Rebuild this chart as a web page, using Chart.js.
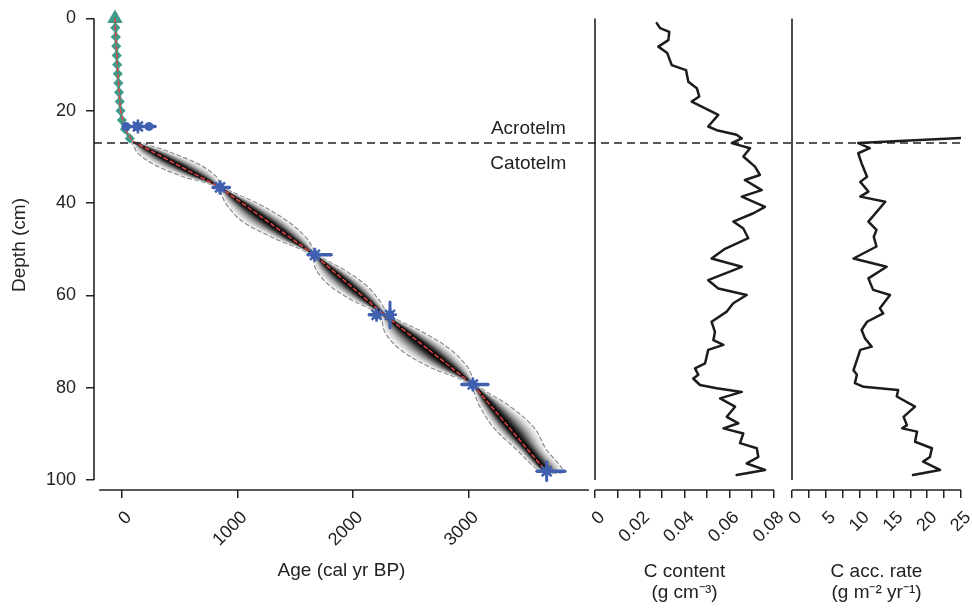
<!DOCTYPE html>
<html>
<head>
<meta charset="utf-8">
<title>Peat core: age model, C content, C accumulation</title>
<script src="https://cdn.jsdelivr.net/npm/chart.js@4.4.1/dist/chart.umd.min.js"></script>
<style>
  body { margin: 0; background: #fff; }
  #wrap { position: relative; width: 972px; height: 608px; }
  #wrap canvas { position: absolute; left: 0; top: 0; }
</style>
</head>
<body>
<div id="wrap">
  <canvas id="ageChart" width="972" height="608"></canvas>
  <canvas id="carbonChart" width="972" height="608"></canvas>
  <canvas id="rateChart" width="972" height="608"></canvas>
</div>
<script>
// ---- data ----
const depthTicks = [0, 20, 40, 60, 80, 100];
const zoneDepth = 27; // acrotelm / catotelm boundary (cm)

const ageTicks = [0, 1000, 2000, 3000];
const ageTickLabels = ['0', '1000', '2000', '3000'];
const ccTicks = [0, 0.01, 0.02, 0.03, 0.04, 0.05, 0.06, 0.07, 0.08];
const ccTickLabels = ['0', '', '0.02', '', '0.04', '', '0.06', '', '0.08'];
const rateTicks = [0, 2.5, 5, 7.5, 10, 12.5, 15, 17.5, 20, 22.5, 25];
const rateTickLabels = ['0', '', '5', '', '10', '', '15', '', '20', '', '25'];

// 210Pb chronology of the upper peat
const pbDepth = [0, 2, 4, 6, 8, 10, 12, 14, 16, 18, 20, 22, 24, 26];
const pbAge = [-58, -55, -51, -47, -43, -39, -34, -29, -23, -17, -10, 2, 28, 70];

// median age of the model
const medDepth = [0, 10, 20, 24, 26.6, 36.6, 51.2, 64.2, 79.3, 98];
const medAge = [-58, -39, -10, 28, 95, 850, 1665, 2270, 3035, 3665];

// 95% range of the age model
const envDepth = [26.6, 28.2, 29.1, 31.6, 34.1, 36.6, 40.25, 43.9, 47.55, 51.2, 54.45, 57.7, 60.95, 64.2, 68.0, 71.75, 75.5, 79.3, 83.98, 88.65, 93.3, 98.1, 98.6];
const envMid = [95, 216, 284, 472, 661, 850, 1054, 1258, 1461, 1665, 1816, 1968, 2119, 2270, 2461, 2653, 2844, 3035, 3193, 3350, 3508, 3665, 3700];
const envLo = [80, 116, 134, 277, 511, 815, 904, 1040, 1311, 1630, 1681, 1788, 1984, 2225, 2276, 2408, 2659, 3000, 3093, 3215, 3408, 3612, 3700];
const envHi = [110, 332, 434, 667, 811, 885, 1189, 1433, 1596, 1700, 1921, 2108, 2224, 2315, 2606, 2843, 2989, 3070, 3353, 3565, 3668, 3815, 3700];

// calibrated 14C dates
const dateDepth = [23.4, 36.6, 51.2, 64.2, 64.2, 79.3, 98.1];
const dateAge = [140, 850, 1670, 2203, 2319, 3035, 3673];
const dateLo = [12, 790, 1610, 2140, 2300, 2940, 3590];
const dateHi = [288, 930, 1810, 2250, 2340, 3165, 3830];
const dateSpan = [0.6, 1.2, 1.0, 0.8, 2.8, 0.9, 2.0];
const surfaceDatePeaks = [37, 132, 236];

// carbon content (g cm-3)
const ccDepth = [1.0, 2.1, 2.9, 4.7, 6.1, 7.5, 10.1, 11.2, 13.7, 15.1, 16.9, 18.0, 20.9, 23.4, 24.2, 25.2, 26.0, 27.0, 28.1, 29.9, 32.1, 33.9, 35.0, 37.2, 38.6, 40.8, 42.2, 44.0, 45.5, 47.6, 49.9, 52.0, 53.8, 56.7, 58.5, 59.9, 61.7, 63.5, 65.7, 67.9, 69.7, 70.7, 71.8, 74.7, 75.8, 77.2, 78.0, 79.4, 80.1, 80.9, 82.3, 84.1, 86.3, 87.7, 88.8, 89.9, 92.0, 93.1, 95.0, 96.4, 97.8, 98.9];
const ccValue = [0.0276, 0.0291, 0.0332, 0.0328, 0.0283, 0.0323, 0.0343, 0.0407, 0.0417, 0.0455, 0.0466, 0.0432, 0.0551, 0.0506, 0.0544, 0.0633, 0.0656, 0.0611, 0.0693, 0.0663, 0.0715, 0.0737, 0.0670, 0.0745, 0.0656, 0.0760, 0.0708, 0.0618, 0.0663, 0.0685, 0.0581, 0.0521, 0.0656, 0.0506, 0.0551, 0.0678, 0.0618, 0.0589, 0.0521, 0.0536, 0.0529, 0.0574, 0.0506, 0.0492, 0.0447, 0.0462, 0.0439, 0.0469, 0.0544, 0.0656, 0.0559, 0.0626, 0.0589, 0.0641, 0.0574, 0.0663, 0.0648, 0.0723, 0.0730, 0.0678, 0.0760, 0.0633];

// carbon accumulation rate (g m-2 yr-1)
const rateDepth = [25.5, 27.0, 28.1, 29.2, 31.4, 34.3, 35.4, 37.5, 38.6, 39.7, 44.0, 45.8, 47.3, 49.4, 52.0, 53.8, 56.3, 58.8, 59.9, 62.8, 63.9, 65.7, 67.5, 69.3, 71.1, 71.8, 74.0, 76.2, 77.2, 79.0, 79.8, 80.5, 81.9, 84.1, 86.3, 88.1, 88.8, 89.5, 91.7, 93.1, 95.0, 96.0, 97.8, 98.9];
const rateValue = [30, 9.8, 11.5, 9.8, 10.3, 11.1, 10.1, 11.3, 10.1, 13.8, 11.3, 12.5, 12.1, 12.5, 9.1, 14.0, 11.3, 12.0, 14.5, 13.0, 13.5, 11.1, 10.3, 10.8, 11.8, 10.1, 9.6, 9.1, 9.6, 9.3, 10.6, 15.7, 15.5, 18.2, 16.5, 17.0, 16.3, 18.5, 18.2, 20.7, 20.4, 19.4, 21.9, 17.9];

// ---- styling ----
const FONT = '"Liberation Sans", Arial, Helvetica, sans-serif';
const INK = '#222';
const H = 608;
const AXIS_Y = 490;      // pixel row of the bottom axes
const RIGHT_EDGE = 961;  // end of the last panel
const TEAL = '#3f9c8c';
const BLUE = '#3f5fb0';
const RED = '#e04646';
const shadeFrac = [1, 0.88, 0.76, 0.65, 0.54, 0.44, 0.35, 0.26, 0.18, 0.1];
const shadeFill = ['#f4f4f4', '#e0e0e0', '#c8c8c8', '#ababab', '#8b8b8b', '#696969', '#474747', '#2a2a2a', '#141414', '#050505'];

Chart.defaults.font.family = FONT;
Chart.defaults.color = INK;

const pts = (xs, ys) => xs.map((x, i) => ({ x: x, y: ys[i] }));

function depthAxis(show) {
  return {
    type: 'linear', reverse: true, min: -4, max: 102.15,
    display: show,
    afterBuildTicks: s => { s.ticks = depthTicks.map(v => ({ value: v })); },
    afterFit: s => {
      if (show) s.width = 94;
      s.paddingTop = 0;
      s.paddingBottom = 0;
    },
    grid: { drawOnChartArea: false, tickLength: 8, color: INK, lineWidth: 1.5 },
    border: { display: false },
    ticks: { font: { size: 18 }, color: INK, padding: 10 },
    title: { display: show, text: 'Depth (cm)', font: { size: 19 }, color: INK, padding: { top: 8 } }
  };
}

function bottomAxis(min, max, ticks, labels, title, pad) {
  return {
    type: 'linear', position: 'bottom', min: min, max: max,
    afterBuildTicks: s => { s.ticks = ticks.map(v => ({ value: v })); },
    afterFit: s => { s.height = H - AXIS_Y; s.paddingLeft = 0; s.paddingRight = 0; },
    grid: { drawOnChartArea: false, tickLength: 8, color: INK, lineWidth: 1.5 },
    border: { display: false },
    ticks: { autoSkip: false, minRotation: 45, maxRotation: 45, font: { size: 18 }, color: INK, padding: 9,
             labelOffset: 7, callback: (v, i) => labels[i] },
    title: { display: true, text: title, font: { size: 19, lineHeight: 1.1 }, color: INK, padding: { bottom: pad } }
  };
}

// detached axis lines, R style
const panelFrame = {
  id: 'panelFrame',
  beforeDatasetsDraw(chart, args, opts) {
    const { ctx, chartArea } = chart;
    const x = chart.scales.x, y = chart.scales.y;
    const ax = x.getPixelForValue(x.min);
    ctx.save();
    ctx.strokeStyle = INK;
    ctx.lineWidth = 1.6;
    ctx.beginPath();
    ctx.moveTo(ax, y.getPixelForValue(depthTicks[0]));
    ctx.lineTo(ax, y.getPixelForValue(depthTicks[depthTicks.length - 1]));
    ctx.moveTo(x.getPixelForValue(opts.from), chartArea.bottom);
    ctx.lineTo(x.getPixelForValue(x.max), chartArea.bottom);
    ctx.stroke();
    ctx.restore();
  }
};

// acrotelm / catotelm boundary across all panels
const zoneLine = {
  id: 'zoneLine',
  afterDatasetsDraw(chart, args, opts) {
    const { ctx, chartArea } = chart;
    const x = chart.scales.x, y = chart.scales.y;
    const py = y.getPixelForValue(zoneDepth);
    ctx.save();
    ctx.strokeStyle = INK;
    ctx.lineWidth = 1.5;
    ctx.setLineDash([8, 5]);
    ctx.beginPath();
    ctx.moveTo(chartArea.left, py);
    ctx.lineTo(RIGHT_EDGE, py);
    ctx.stroke();
    ctx.setLineDash([]);
    ctx.fillStyle = INK;
    ctx.font = '19px ' + FONT;
    ctx.textAlign = 'center';
    ctx.textBaseline = 'middle';
    ctx.fillText('Acrotelm', x.getPixelForValue(opts.labelAge), y.getPixelForValue(zoneDepth - 3.2));
    ctx.fillText('Catotelm', x.getPixelForValue(opts.labelAge), y.getPixelForValue(zoneDepth + 4.4));
    ctx.restore();
  }
};

const common = {
  responsive: false,
  animation: false,
  events: [],
  plugins: { legend: { display: false }, tooltip: { enabled: false } },
  elements: { point: { radius: 0 }, line: { borderJoinStyle: 'round', borderCapStyle: 'round' } }
};

// ---- age-depth panel ----
const ageSets = [];

dateAge.forEach((a, i) => {
  ageSets.push({ data: [{ x: dateLo[i], y: dateDepth[i] }, { x: dateHi[i], y: dateDepth[i] }],
    showLine: true, borderColor: BLUE, borderWidth: 3.5, order: 0 });
  ageSets.push({ data: [{ x: a, y: dateDepth[i] - dateSpan[i] }, { x: a, y: dateDepth[i] + dateSpan[i] }],
    showLine: true, borderColor: BLUE, borderWidth: 3, order: 0 });
});
ageSets.push({ data: pts(dateAge, dateDepth), pointStyle: 'star', pointRadius: 7, pointBorderWidth: 2.5,
  pointBorderColor: BLUE, pointBackgroundColor: BLUE, order: 0 });
ageSets.push({ data: pts(dateAge, dateDepth), pointStyle: 'rectRot', pointRadius: 5,
  pointBorderColor: BLUE, pointBackgroundColor: BLUE, order: 0 });
ageSets.push({ data: surfaceDatePeaks.map(a => ({ x: a, y: dateDepth[0] })), pointStyle: 'circle', pointRadius: 4,
  pointBorderColor: BLUE, pointBackgroundColor: BLUE, order: 0 });

ageSets.push({ data: pts(medAge, medDepth), showLine: true, borderColor: RED, borderWidth: 1.5,
  borderDash: [4, 3], order: 1 });

ageSets.push({ data: pts(pbAge, pbDepth), showLine: true, borderColor: TEAL, borderWidth: 3,
  pointStyle: pbDepth.map((d, i) => i === 0 ? 'triangle' : 'rectRot'),
  pointRadius: pbDepth.map((d, i) => i === 0 ? 6 : 3),
  pointBackgroundColor: TEAL, pointBorderColor: TEAL, order: 2 });

shadeFrac.forEach((f, k) => {
  const down = envDepth.map((d, i) => ({ x: envMid[i] + f * (envLo[i] - envMid[i]), y: d }));
  const up = envDepth.map((d, i) => ({ x: envMid[i] + f * (envHi[i] - envMid[i]), y: d })).reverse();
  ageSets.push({ data: down.concat(up), showLine: true, fill: 'shape', tension: 0.35,
    backgroundColor: shadeFill[k],
    borderColor: k === 0 ? '#8a8a8a' : 'rgba(0,0,0,0)', borderWidth: k === 0 ? 1.2 : 0,
    borderDash: [4, 3], order: 10 + (shadeFrac.length - k) });
});

new Chart(document.getElementById('ageChart'), {
  type: 'scatter',
  data: { datasets: ageSets },
  options: Object.assign({}, common, {
    layout: { autoPadding: false, padding: { left: 0, right: 383, top: 0, bottom: 0 } },
    scales: {
      x: bottomAxis(-239.4, 4038.9, ageTicks, ageTickLabels, 'Age (cal yr BP)', 27),
      y: depthAxis(true)
    },
    plugins: Object.assign({}, common.plugins, {
      panelFrame: { from: -195 },
      zoneLine: { labelAge: 3515 }
    })
  }),
  plugins: [panelFrame, zoneLine]
});

// ---- carbon content panel ----
new Chart(document.getElementById('carbonChart'), {
  type: 'scatter',
  data: { datasets: [{ data: pts(ccValue, ccDepth), showLine: true, borderColor: '#1c1c1c', borderWidth: 2.5 }] },
  options: Object.assign({}, common, {
    layout: { autoPadding: false, padding: { left: 595, right: 198, top: 0, bottom: 0 } },
    scales: {
      x: bottomAxis(0, 0.08, ccTicks, ccTickLabels, ['C content', '(g cm\u207B\u00B3)'], 5),
      y: depthAxis(false)
    },
    plugins: Object.assign({}, common.plugins, { panelFrame: { from: 0 } })
  }),
  plugins: [panelFrame]
});

// ---- carbon accumulation panel ----
new Chart(document.getElementById('rateChart'), {
  type: 'scatter',
  data: { datasets: [{ data: pts(rateValue, rateDepth), showLine: true, borderColor: '#1c1c1c', borderWidth: 2.5 }] },
  options: Object.assign({}, common, {
    layout: { autoPadding: false, padding: { left: 792, right: 11, top: 0, bottom: 0 } },
    scales: {
      x: bottomAxis(0, 25, rateTicks, rateTickLabels, ['C acc. rate', '(g m\u207B\u00B2 yr\u207B\u00B9)'], 5),
      y: depthAxis(false)
    },
    plugins: Object.assign({}, common.plugins, { panelFrame: { from: 0 } })
  }),
  plugins: [panelFrame]
});
</script>
</body>
</html>
